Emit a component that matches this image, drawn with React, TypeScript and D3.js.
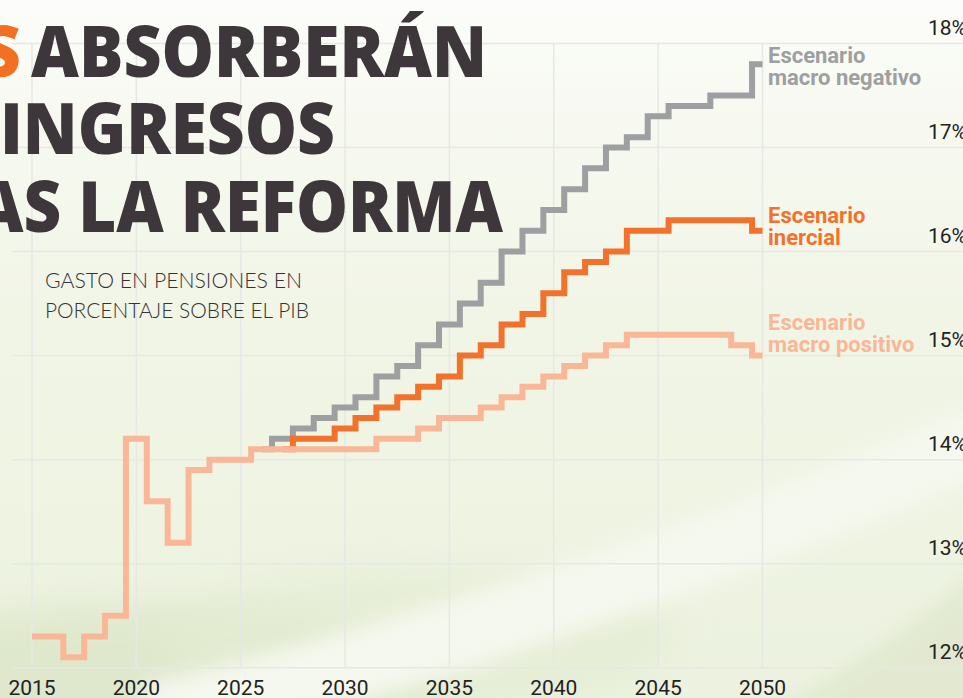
import React from "react";
import * as d3 from "d3";

const years: number[] = [2015,2016,2017,2018,2019,2020,2021,2022,2023,2024,2025,2026,2027,2028,2029,2030,2031,2032,2033,2034,2035,2036,2037,2038,2039,2040,2041,2042,2043,2044,2045,2046,2047,2048,2049,2050];

// Escenario macro positivo (2015-2050)
const positivo: number[] = [12.3,12.3,12.1,12.3,12.5,14.2,13.6,13.2,13.9,14.0,14.0,14.1,14.1,14.1,14.1,14.1,14.1,14.2,14.2,14.3,14.4,14.4,14.5,14.6,14.7,14.8,14.9,15.0,15.1,15.2,15.2,15.2,15.2,15.2,15.1,15.0];
// Escenario inercial (2027-2050)
const inercialStart = 2027;
const inercial: number[] = [14.1,14.2,14.2,14.3,14.4,14.5,14.6,14.7,14.8,15.0,15.1,15.3,15.4,15.6,15.8,15.9,16.0,16.2,16.2,16.3,16.3,16.3,16.3,16.2];
// Escenario macro negativo (2026-2050)
const negativoStart = 2026;
const negativo: number[] = [14.1,14.2,14.3,14.4,14.5,14.6,14.8,14.9,15.1,15.3,15.5,15.7,16.0,16.2,16.4,16.6,16.8,17.0,17.1,17.3,17.4,17.4,17.5,17.5,17.8];

const xTicks: number[] = [2015,2020,2025,2030,2035,2040,2045,2050];
const yTicks: number[] = [12,13,14,15,16,17,18];

const titleLines = ["ABSORBERÁN", "INGRESOS", "AS LA REFORMA"];
const subtitleLines = ["GASTO EN PENSIONES EN", "PORCENTAJE SOBRE EL PIB"];

const W = 963, H = 698;
const C_NEG = "#9d9fa1";
const C_INE = "#f3722b";
const C_POS = "#f9b797";

type P = { year: number; v: number };

export default function App() {
  const x = d3.scaleLinear().domain([2015, 2050]).range([32, 762.5]);
  const y = d3.scaleLinear().domain([12, 18]).range([667.7, 43.5]);
  const line = d3.line<P>().x(d => x(d.year)).y(d => y(d.v)).curve(d3.curveStep);

  const posData: P[] = positivo.map((v, i) => ({ year: years[i], v }));
  const ineData: P[] = inercial.map((v, i) => ({ year: inercialStart + i, v }));
  const negData: P[] = negativo.map((v, i) => ({ year: negativoStart + i, v }));

  const font = "Roboto, 'Noto Sans', sans-serif";

  return (
    <svg width={W} height={H} viewBox={`0 0 ${W} ${H}`} style={{ position: "absolute", left: 0, top: 0, display: "block" }}>
      <defs>
        <linearGradient id="bg" x1="0" y1="0" x2="0" y2="1">
          <stop offset="0" stopColor="#fcfdfa" />
          <stop offset="0.12" stopColor="#f8faf3" />
          <stop offset="0.45" stopColor="#f1f5e6" />
          <stop offset="1" stopColor="#ecf2df" />
        </linearGradient>
        <filter id="blur1" x="-50%" y="-50%" width="200%" height="200%">
          <feGaussianBlur stdDeviation="18" />
        </filter>
        <filter id="blur2" x="-50%" y="-50%" width="200%" height="200%">
          <feGaussianBlur stdDeviation="10" />
        </filter>
      </defs>
      <rect x={0} y={0} width={W} height={H} fill="url(#bg)" />
      {/* soft background hills */}
      <g>
        <ellipse cx={120} cy={700} rx={330} ry={95} fill="#dde7c9" opacity={0.85} filter="url(#blur1)" />
        <ellipse cx={420} cy={640} rx={260} ry={70} fill="#e4ecd3" opacity={0.7} filter="url(#blur1)" />
        <path d="M 150 720 Q 560 620 980 440" fill="none" stroke="#f5f8ee" strokeWidth={70} filter="url(#blur2)" />
        <path d="M 760 720 Q 900 640 990 560 L 990 720 Z" fill="#e1e9cf" opacity={0.9} filter="url(#blur2)" />
      </g>

      {/* grid */}
      <g stroke="#e6e8e5" strokeWidth={1.5}>
        {yTicks.map(t => (
          <line key={"h" + t} x1={12} x2={W} y1={y(t)} y2={y(t)} />
        ))}
        {xTicks.map(t => (
          <line key={"v" + t} x1={x(t)} x2={x(t)} y1={y(18)} y2={y(12)} />
        ))}
      </g>

      {/* title */}
      <g fontFamily="'Open Sans', 'Noto Sans', sans-serif" fontWeight={800} fontSize={71} fill="#3d363b">
        <text x={21} y={77} textAnchor="end" fill="#f36f21">S</text>
        <text x={31} y={77} textLength={456} lengthAdjust="spacingAndGlyphs">{titleLines[0]}</text>
        <text x={0} y={154} textLength={335} lengthAdjust="spacingAndGlyphs">{titleLines[1]}</text>
        <text x={-24} y={232} textLength={527} lengthAdjust="spacingAndGlyphs">{titleLines[2]}</text>
      </g>

      {/* subtitle */}
      <g fontFamily="Lato, 'Open Sans', sans-serif" fontWeight={300} fontSize={22} fill="#333">
        <text x={45} y={288} textLength={257} lengthAdjust="spacingAndGlyphs">{subtitleLines[0]}</text>
        <text x={45} y={318} textLength={264} lengthAdjust="spacingAndGlyphs">{subtitleLines[1]}</text>
      </g>

      {/* lines */}
      <g fill="none" strokeWidth={6} strokeLinejoin="miter" strokeLinecap="butt">
        <path d={line(negData) || ""} stroke={C_NEG} />
        <path d={line(ineData) || ""} stroke={C_INE} />
        <path d={line(posData) || ""} stroke={C_POS} />
      </g>

      {/* series labels */}
      <g fontFamily={font} fontWeight={700} fontSize={22}>
        <text x={768} y={63} fill={C_NEG}>Escenario</text>
        <text x={768} y={85} fill={C_NEG}>macro negativo</text>
        <text x={768} y={223} fill={C_INE}>Escenario</text>
        <text x={768} y={245} fill={C_INE}>inercial</text>
        <text x={768} y={330} fill={C_POS}>Escenario</text>
        <text x={768} y={352} fill={C_POS}>macro positivo</text>
      </g>

      {/* y tick labels */}
      <g fontFamily={font} fontSize={21} fill="#222">
        {yTicks.map(t => (
          <text key={"yl" + t} x={928} y={y(t) - 8.5}>{t}%</text>
        ))}
      </g>

      {/* x tick labels */}
      <g fontFamily={font} fontSize={21} fill="#222" textAnchor="middle">
        {xTicks.map(t => (
          <text key={"xl" + t} x={x(t)} y={695}>{t}</text>
        ))}
      </g>
    </svg>
  );
}
